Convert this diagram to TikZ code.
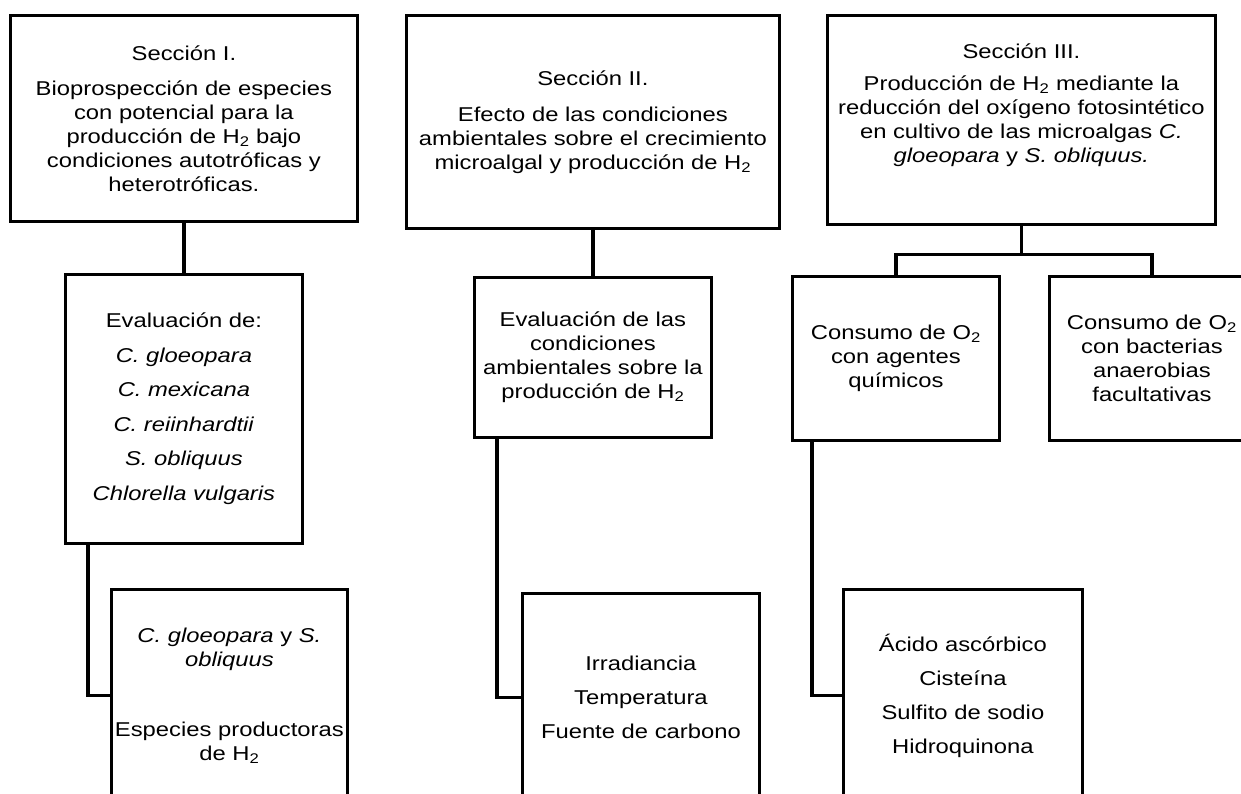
\documentclass[tikz,border=0pt]{standalone}
\usepackage{fontspec}
\setmainfont{Liberation Sans}[FakeStretch=1.19]
\tikzset{
  box/.style={draw, line width=2.8pt, rectangle, inner sep=0pt, anchor=north west,
    align=center, font=\fontsize{20}{24}\selectfont},
  link/.style={line width=3.2pt},
}
\begin{document}
\begin{tikzpicture}[x=1pt,y=-1pt]
\useasboundingbox (0,0) rectangle (1241,794);
\clip (0,0) rectangle (1241,794);

% Section I
\node[box, minimum width=347pt, minimum height=206pt] (s1) at (9,14)
  {Sección I.\\[11pt]Bioprospección de especies\\con potencial para la\\producción de H\textsubscript{2} bajo\\condiciones autotróficas y\\heterotróficas.};
\node[box, minimum width=237pt, minimum height=269pt] (e1) at (64,273)
  {Evaluación de:\\[10.5pt]\textit{C. gloeopara}\\[10.5pt]\textit{C. mexicana}\\[10.5pt]\textit{C. reiinhardtii}\\[10.5pt]\textit{S. obliquus}\\[10.5pt]\textit{Chlorella vulgaris}};
\node[box, minimum width=236pt, minimum height=212pt] (b1) at (110,588)
  {\textit{C. gloeopara} y \textit{S.}\\\textit{obliquus}\\[46pt]Especies productoras\\de H\textsubscript{2}};

% Section II
\node[box, minimum width=373pt, minimum height=213pt] (s2) at (405,14)
  {Sección II.\\[12pt]Efecto de las condiciones\\ambientales sobre el crecimiento\\microalgal y producción de H\textsubscript{2}};
\node[box, minimum width=237pt, minimum height=160pt] (e2) at (473,276)
  {Evaluación de las\\condiciones\\ambientales sobre la\\producción de H\textsubscript{2}};
\node[box, minimum width=237pt, minimum height=208pt] (b2) at (521,592)
  {Irradiancia\\[10pt]Temperatura\\[10pt]Fuente de carbono};

% Section III
\node[box, minimum width=388pt, minimum height=209pt] (s3) at (826,14)
  {Sección III.\\[8pt]Producción de H\textsubscript{2} mediante la\\reducción del oxígeno fotosintético\\en cultivo de las microalgas \textit{C.}\\\textit{gloeopara} y \textit{S. obliquus.}\\[3pt]\strut};
\node[box, minimum width=207pt, minimum height=164pt] (c1) at (791,275)
  {Consumo de O\textsubscript{2}\\con agentes\\químicos};
\node[box, minimum width=205pt, minimum height=164pt] (c2) at (1048,275)
  {Consumo de O\textsubscript{2}\\con bacterias\\anaerobias\\facultativas};
\node[box, minimum width=239pt, minimum height=212pt] (b3) at (842,588)
  {Ácido ascórbico\\[10pt]Cisteína\\[10pt]Sulfito de sodio\\[10pt]Hidroquinona};

% connectors
\draw[link] (s1.south) -- (e1.north);
\draw[link] ([xshift=24pt]e1.south west) |- (b1.west);
\draw[link] (s2.south) -- (e2.north);
\draw[link] ([xshift=24pt]e2.south west) |- (b2.west);
\draw[link] (s3.south) -- ++(0,29) coordinate (j3);
\draw[link] (c1.north) |- (j3) -| (c2.north);
\draw[link] ([xshift=21pt]c1.south west) |- (b3.west);
\end{tikzpicture}
\end{document}
